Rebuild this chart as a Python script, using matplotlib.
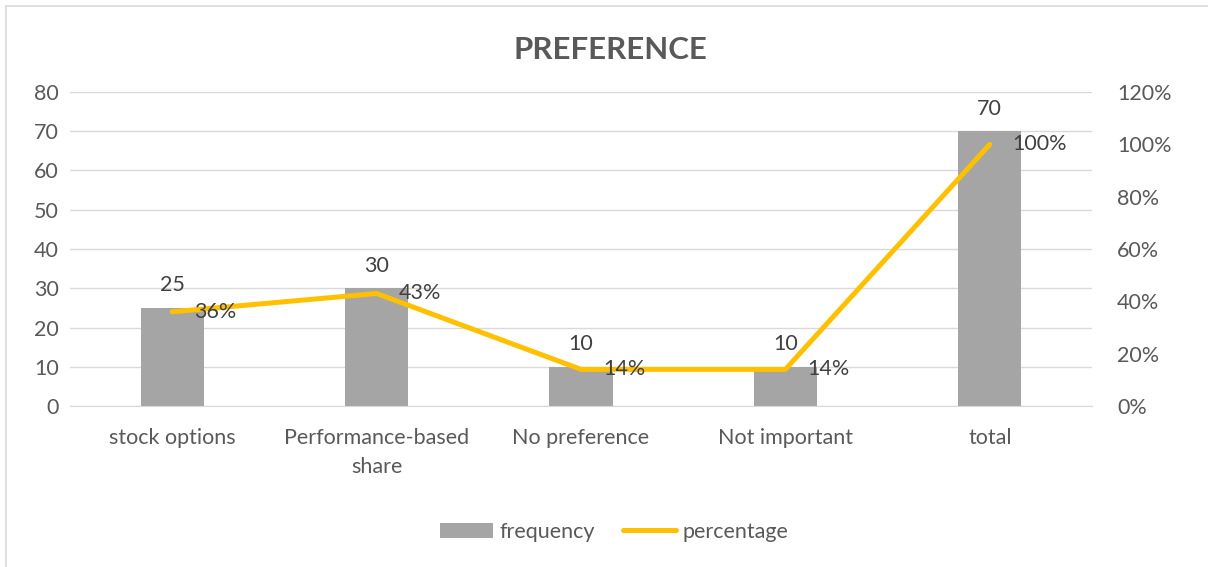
import matplotlib
matplotlib.use("Agg")
import matplotlib.pyplot as plt
from matplotlib.lines import Line2D
from matplotlib.patches import Patch

categories = ["stock options", "Performance-based\nshare", "No preference", "Not important", "total"]
frequency = [25, 30, 10, 10, 70]
percentage = [0.36, 0.43, 0.14, 0.14, 1.00]
pct_labels = ["36%", "43%", "14%", "14%", "100%"]
left_ticks = [0, 10, 20, 30, 40, 50, 60, 70, 80]
right_ticks = [0, 0.2, 0.4, 0.6, 0.8, 1.0, 1.2]
right_tick_labels = ["0%", "20%", "40%", "60%", "80%", "100%", "120%"]

plt.rcParams['font.family'] = ['Lato', 'DejaVu Sans']
TXT = "#595959"
LBL = "#404040"
BAR = "#A5A5A5"
LINE = "#FFC000"
GRID = "#D9D9D9"
FS = 15.5

fig = plt.figure(figsize=(12.08, 5.67), dpi=100)
# chart frame (only top and left edges visible in the reference)
fig.add_artist(Line2D([5.5/1208, 5.5/1208], [0, 1 - 6/567], transform=fig.transFigure,
                      color=GRID, linewidth=1.2))
fig.add_artist(Line2D([5.5/1208, 1], [1 - 6/567, 1 - 6/567], transform=fig.transFigure,
                      color=GRID, linewidth=1.2))

ax = fig.add_axes([70/1208, 1 - 406/567, (1092 - 70)/1208, (406 - 92)/567])
x = list(range(len(categories)))
ax.bar(x, frequency, width=0.31, color=BAR, zorder=2)
ax.set_xlim(-0.5, len(categories) - 0.5)
ax.set_ylim(0, 80)
ax.set_yticks(left_ticks)
ax.grid(axis="y", color=GRID, linewidth=1, zorder=0)
ax.set_axisbelow(True)
for s in ["top", "right", "left"]:
    ax.spines[s].set_visible(False)
ax.spines["bottom"].set_color(GRID)
ax.tick_params(axis="both", length=0, colors=TXT, labelsize=FS)
ax.tick_params(axis="y", pad=8)
ax.tick_params(axis="x", pad=16)
ax.set_xticks(x)
ax.set_xticklabels(categories, color=TXT, fontsize=FS, linespacing=1.55)
for xi, v in zip(x, frequency):
    ax.annotate(str(v), (xi, v), xytext=(0, 9), textcoords="offset points",
                ha="center", va="bottom", color=LBL, fontsize=FS, zorder=5)

ax2 = ax.twinx()
ax2.set_ylim(0, 1.2)
ax2.set_yticks(right_ticks)
ax2.set_yticklabels(right_tick_labels)
for s in ["top", "right", "left", "bottom"]:
    ax2.spines[s].set_visible(False)
ax2.tick_params(axis="y", length=0, colors=TXT, labelsize=FS, pad=18)
ax2.plot(x, percentage, color=LINE, linewidth=3.6, solid_capstyle="round", zorder=3)
for xi, p, lab in zip(x, percentage, pct_labels):
    ax2.annotate(lab, (xi, p), xytext=(16, 0), textcoords="offset points",
                 ha="left", va="center", color=LBL, fontsize=FS, zorder=5)

fig.text(610/1208, 1 - 50/567, "PREFERENCE", ha="center", va="center",
         fontsize=22.5, fontweight="bold", color=TXT)

handles = [Patch(facecolor=BAR, edgecolor="none"),
           Line2D([0], [0], color=LINE, linewidth=3.6, solid_capstyle="round")]
fig.legend(handles, ["frequency", "percentage"], loc="center", bbox_to_anchor=(614/1208, 1 - 532/567),
           ncol=2, frameon=False, fontsize=FS, labelcolor=TXT, handlelength=2.45,
           handletextpad=0.3, columnspacing=1.3, handleheight=0.7)

fig.savefig("out.png", dpi=100)
